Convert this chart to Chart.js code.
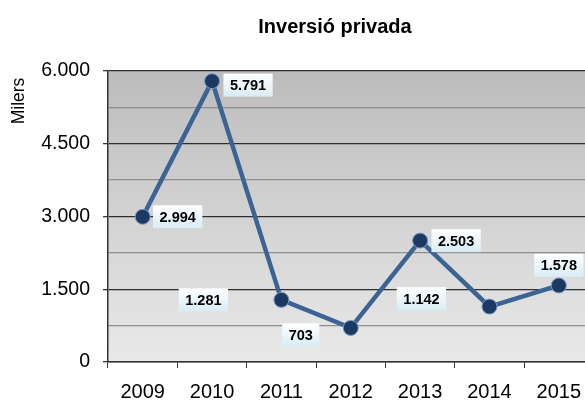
<!DOCTYPE html>
<html>
<head>
<meta charset="utf-8">
<script src="https://cdn.jsdelivr.net/npm/chart.js@4.4.1/dist/chart.umd.min.js"></script>
<style>
  html, body { margin: 0; padding: 0; background: #fff; overflow: hidden; }
  #invChart { display: block; }
</style>
</head>
<body>
<canvas id="invChart" width="602" height="416"></canvas>
<script>
const years = ['2009', '2010', '2011', '2012', '2013', '2014', '2015'];
const investment = [2994, 5791, 1281, 703, 2503, 1142, 1578];
const yTicks = [0, 1500, 3000, 4500, 6000];
// where each value label sits relative to its point (dx, dy in px)
const labelOffsets = [[35, 0], [36, 4], [-78, 0], [-50, 7], [36, 0], [-68, -8], [0, -20]];

const FONT = '"Liberation Sans", Arial, sans-serif';

function fmt(v) {
  return String(Math.round(v)).replace(/\B(?=(\d{3})+(?!\d))/g, '.');
}

const plotBackground = {
  id: 'plotBackground',
  beforeDraw(chart) {
    const a = chart.chartArea;
    const ctx = chart.ctx;
    const g = ctx.createLinearGradient(0, a.top, 0, a.bottom);
    g.addColorStop(0, '#bcbcbc');
    g.addColorStop(1, '#e9e9e9');
    ctx.save();
    ctx.fillStyle = g;
    ctx.fillRect(a.left, a.top, a.right - a.left, a.bottom - a.top);
    ctx.restore();
  }
};

const headings = {
  id: 'headings',
  afterDraw(chart) {
    const ctx = chart.ctx;
    const a = chart.chartArea;
    ctx.save();
    ctx.fillStyle = '#000';
    ctx.font = 'bold 20px ' + FONT;
    ctx.textAlign = 'center';
    ctx.textBaseline = 'alphabetic';
    ctx.fillText('Inversió privada', 335, 33);
    // axis name, rotated, near the top of the value axis
    ctx.translate(24, a.top + 30);
    ctx.rotate(-Math.PI / 2);
    ctx.font = '17.5px ' + FONT;
    ctx.fillText('Milers', 0, 0);
    ctx.restore();
  }
};

const valueLabels = {
  id: 'valueLabels',
  afterDatasetsDraw(chart) {
    const ctx = chart.ctx;
    const pts = chart.getDatasetMeta(0).data;
    ctx.save();
    ctx.font = 'bold 14.5px ' + FONT;
    ctx.textAlign = 'center';
    ctx.textBaseline = 'middle';
    pts.forEach(function (p, i) {
      const txt = fmt(investment[i]);
      const cx = p.x + labelOffsets[i][0];
      const cy = p.y + labelOffsets[i][1];
      const w = ctx.measureText(txt).width + 13;
      const h = 23;
      const g = ctx.createLinearGradient(0, cy - h / 2, 0, cy + h / 2);
      g.addColorStop(0, '#ffffff');
      g.addColorStop(1, '#d8ecf4');
      ctx.fillStyle = g;
      ctx.fillRect(cx - w / 2, cy - h / 2, w, h);
      ctx.fillStyle = '#000';
      ctx.fillText(txt, cx, cy + 1);
    });
    ctx.restore();
  }
};

new Chart(document.getElementById('invChart'), {
  type: 'line',
  data: {
    labels: years,
    datasets: [{
      label: 'Inversió privada',
      data: investment,
      borderColor: '#3b6394',
      borderWidth: 4.5,
      pointBackgroundColor: '#1b3963',
      pointBorderColor: '#7a9cc6',
      pointBorderWidth: 1,
      pointRadius: 7.5,
      tension: 0,
      fill: false
    }]
  },
  options: {
    responsive: false,
    animation: false,
    events: [],
    layout: { padding: { top: 71, right: 0, bottom: 0, left: 0 } },
    plugins: {
      legend: { display: false },
      tooltip: { enabled: false }
    },
    scales: {
      x: {
        offset: true,
        grid: {
          offset: true,
          drawOnChartArea: false,
          drawTicks: true,
          tickLength: 6,
          tickColor: '#333'
        },
        border: { display: true, color: '#333', width: 1.5 },
        ticks: {
          color: '#000',
          font: { family: FONT, size: 20 },
          padding: 12,
          maxRotation: 0
        }
      },
      y: {
        min: 0,
        max: 6000,
        afterFit(scale) { scale.width = 108; },
        afterBuildTicks(scale) {
          const t = [];
          for (let v = 0; v <= 6000; v += 750) t.push({ value: v });
          scale.ticks = t;
        },
        grid: {
          color(ctx) {
            return yTicks.includes(ctx.tick.value) ? '#2e2e2e' : '#8e8e8e';
          },
          lineWidth: 1.3,
          tickColor(ctx) {
            return yTicks.includes(ctx.tick.value) ? '#333' : 'rgba(0,0,0,0)';
          },
          tickLength: 5
        },
        border: { display: true, color: '#333', width: 1.5 },
        ticks: {
          color: '#000',
          font: { family: FONT, size: 19.5 },
          padding: 13,
          callback(value) {
            return yTicks.includes(value) ? fmt(value) : '';
          }
        }
      }
    }
  },
  plugins: [plotBackground, headings, valueLabels]
});
</script>
</body>
</html>
